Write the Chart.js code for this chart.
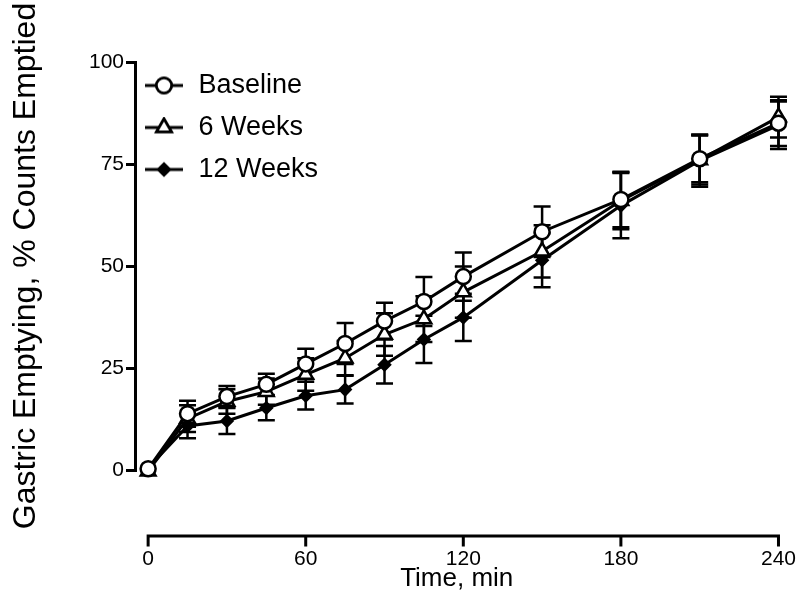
<!DOCTYPE html>
<html><head><meta charset="utf-8">
<script src="https://cdn.jsdelivr.net/npm/chart.js@4/dist/chart.umd.min.js"></script>
<style>html,body{margin:0;padding:0;background:#fff}#wrap{width:797px;height:594px}</style>
</head><body><div id="wrap"><canvas id="c" width="797" height="594"></canvas></div>
<script>
// ---- data ----
const timesMin = [0, 15, 30, 45, 60, 75, 90, 105, 120, 150, 180, 210, 240];
const seriesNames = ['Baseline', '6 Weeks', '12 Weeks'];
const baselineMean = [0.3, 13.8, 18.0, 21.0, 26.0, 31.0, 36.5, 41.3, 47.4, 58.4, 66.3, 76.3, 85.0];
const baselineSem  = [0, 3.2, 2.6, 2.6, 3.7, 5.0, 4.5, 6.0, 5.9, 6.2, 6.8, 5.8, 5.6];
const week6Mean    = [-0.3, 12.6, 16.8, 19.2, 23.4, 27.4, 33.2, 37.0, 43.6, 53.6, 66.0, 76.0, 86.5];
const week6Sem     = [0, 3.3, 3.0, 3.2, 4.0, 4.2, 5.2, 5.6, 6.3, 6.4, 7.0, 6.0, 5.0];
const week12Mean   = [0.5, 10.8, 12.0, 15.2, 18.2, 19.7, 25.8, 32.0, 37.4, 51.4, 64.8, 75.8, 84.5];
const week12Sem    = [0, 3.0, 3.2, 3.0, 3.4, 3.4, 4.6, 5.8, 5.8, 6.6, 8.0, 6.4, 5.8];
const xTickValues = [0, 60, 120, 180, 240];
const yTickValues = [0, 25, 50, 75, 100];

const FONT = "'Liberation Sans', Arial, Helvetica, sans-serif";

function toPoints(vals) { return timesMin.map((t, i) => ({ x: t, y: vals[i] })); }

// legend sample images (line through marker); image is wider on the right so the
// sample sits left of where the legend box would centre it
function legendSample(style, r, fill) {
  const c = document.createElement('canvas');
  c.width = 45; c.height = 22;
  const g = c.getContext('2d');
  g.strokeStyle = '#000'; g.lineWidth = 3;
  g.beginPath(); g.moveTo(0, 11); g.lineTo(38, 11); g.stroke();
  Chart.helpers.drawPoint(g, { pointStyle: style, radius: r, borderWidth: 2.5, rotation: 0 }, 19, 11);
  g.fillStyle = fill; g.fill(); g.lineWidth = 2.5; g.stroke();
  return c;
}

const markerCfg = [
  { style: 'circle', r: 7.5, fill: '#fff' },
  { style: 'triangle', r: 8.5, fill: '#fff' },
  { style: 'rectRot', r: 5.5, fill: '#000' }
];
const means = [baselineMean, week6Mean, week12Mean];
const sems = [baselineSem, week6Sem, week12Sem];

const datasets = seriesNames.map((name, k) => ({
  label: name,
  data: toPoints(means[k]),
  errors: sems[k],
  borderColor: '#000',
  borderWidth: 3,
  pointStyle: markerCfg[k].style,
  pointRadius: markerCfg[k].r,
  pointHoverRadius: markerCfg[k].r,
  pointBackgroundColor: markerCfg[k].fill,
  pointBorderColor: '#000',
  pointBorderWidth: 2.5,
  fill: false,
  tension: 0,
  clip: false
}));

const errorBars = {
  id: 'errorBars',
  beforeDatasetsDraw(chart) {
    const { ctx, scales: { x, y } } = chart;
    ctx.save();
    ctx.strokeStyle = '#000';
    ctx.lineWidth = 2.5;
    const cap = 8.5;
    chart.data.datasets.forEach(ds => {
      ds.data.forEach((p, i) => {
        const e = ds.errors[i];
        if (!e) return;
        const px = x.getPixelForValue(p.x);
        const top = y.getPixelForValue(p.y + e);
        const bot = y.getPixelForValue(p.y - e);
        ctx.beginPath();
        ctx.moveTo(px, top); ctx.lineTo(px, bot);
        ctx.moveTo(px - cap, top); ctx.lineTo(px + cap, top);
        ctx.moveTo(px - cap, bot); ctx.lineTo(px + cap, bot);
        ctx.stroke();
      });
    });
    ctx.restore();
  }
};

// Prism-style detached x axis line with tick marks
const offsetXAxis = {
  id: 'offsetXAxis',
  afterDraw(chart) {
    const { ctx, chartArea, scales: { x } } = chart;
    const yAxis = chartArea.bottom + 66;
    ctx.save();
    ctx.strokeStyle = '#000';
    ctx.lineWidth = 3;
    ctx.lineCap = 'square';
    ctx.beginPath();
    ctx.moveTo(x.getPixelForValue(xTickValues[0]), yAxis);
    ctx.lineTo(x.getPixelForValue(xTickValues[xTickValues.length - 1]), yAxis);
    xTickValues.forEach(v => {
      const px = x.getPixelForValue(v);
      ctx.moveTo(px, yAxis); ctx.lineTo(px, yAxis + 9);
    });
    ctx.stroke();
    ctx.restore();
  }
};

// keep the in-chart legend aligned with the plot area top
const legendPlacement = {
  id: 'legendPlacement',
  afterLayout(chart) {
    const lg = chart.legend;
    if (!lg) return;
    const h = lg.height;
    lg.top = chart.chartArea.top - 5;
    lg.bottom = lg.top + h;
  }
};

new Chart(document.getElementById('c'), {
  type: 'line',
  data: { datasets },
  plugins: [errorBars, offsetXAxis, legendPlacement],
  options: {
    responsive: false,
    animation: false,
    devicePixelRatio: 1,
    layout: { padding: { top: 62, right: 16, bottom: 0, left: 0 } },
    plugins: {
      tooltip: { enabled: false },
      legend: {
        display: true,
        position: 'chartArea',
        align: 'start',
        labels: {
          usePointStyle: true,
          pointStyleWidth: 35,
          padding: 15,
          color: '#000',
          font: { family: FONT, size: 27 },
          generateLabels(chart) {
            const items = Chart.defaults.plugins.legend.labels.generateLabels(chart);
            items.forEach((it, k) => {
              it.pointStyle = legendSample(markerCfg[k].style, markerCfg[k].r, markerCfg[k].fill);
            });
            return items;
          }
        }
      }
    },
    scales: {
      x: {
        type: 'linear',
        min: -5,
        max: 240,
        afterBuildTicks(s) { s.ticks = xTickValues.map(v => ({ value: v })); },
        afterFit(s) { s.height = 124; },
        grid: { display: true, drawOnChartArea: false, drawTicks: true, tickLength: 76, color: 'rgba(0,0,0,0)' },
        border: { display: false },
        ticks: { color: '#000', font: { family: FONT, size: 21 }, padding: 1, maxRotation: 0 },
        title: { display: true, text: 'Time, min', color: '#000', font: { family: FONT, size: 26 }, padding: { top: 0, bottom: 0 } }
      },
      y: {
        type: 'linear',
        min: 0,
        max: 100,
        afterBuildTicks(s) { s.ticks = yTickValues.map(v => ({ value: v })); },
        afterFit(s) { s.width = 135; },
        grid: { drawOnChartArea: false, drawTicks: true, tickLength: 9, color: '#000', lineWidth: 3 },
        border: { display: true, color: '#000', width: 3 },
        ticks: { color: '#000', font: { family: FONT, size: 21 }, padding: 2 },
        title: { display: true, text: 'Gastric Emptying, % Counts Emptied', color: '#000', font: { family: FONT, size: 32 }, padding: { top: 7, bottom: 0 } }
      }
    }
  }
});
</script>
</body></html>
